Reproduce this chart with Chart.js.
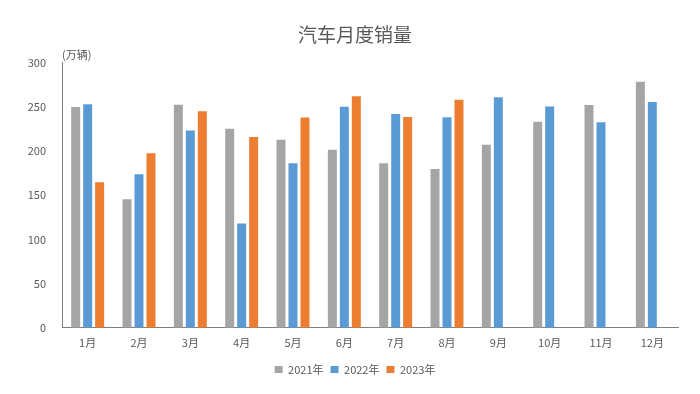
<!DOCTYPE html>
<html>
<head>
<meta charset="utf-8">
<script src="https://cdn.jsdelivr.net/npm/chart.js@4"></script>
<style>
  html, body { margin: 0; padding: 0; background: #fff; }
  #wrap { width: 700px; height: 394px; }
</style>
</head>
<body>
<div id="wrap"><canvas id="c"></canvas></div>
<script>
const months = ['1月', '2月', '3月', '4月', '5月', '6月', '7月', '8月', '9月', '10月', '11月', '12月'];
const sales2021 = [250, 145.5, 252.6, 225.2, 212.8, 201.5, 186.4, 179.9, 207.1, 233.2, 252.2, 278.6];
const sales2022 = [253.1, 173.7, 223.4, 118.1, 186.2, 250.2, 242, 238.3, 261, 250.5, 232.6, 255.6];
const sales2023 = [164.9, 197.6, 245.1, 215.9, 238.2, 262.2, 238.7, 258.2, null, null, null, null];
const yTicks = [0, 50, 100, 150, 200, 250, 300];

const font = '"Noto Sans CJK SC", "Noto Sans", sans-serif';
const textColor = '#595959';

// unit label above the y axis
const unitLabel = {
    id: 'unitLabel',
    afterDraw(chart) {
        const ctx = chart.ctx;
        const area = chart.chartArea;
        ctx.save();
        ctx.font = '11px ' + font;
        ctx.fillStyle = textColor;
        ctx.textAlign = 'left';
        ctx.textBaseline = 'middle';
        ctx.fillText('(万辆)', area.left, area.top - 8);
        ctx.restore();
    }
};

function makeSet(label, data, color) {
    return {
        label: label,
        data: data,
        backgroundColor: color,
        borderWidth: 0,
        categoryPercentage: 0.7,
        barPercentage: 0.75
    };
}

new Chart(document.getElementById('c'), {
    type: 'bar',
    data: {
        labels: months,
        datasets: [
            makeSet('2021年', sales2021, '#A5A5A5'),
            makeSet('2022年', sales2022, '#5B9BD5'),
            makeSet('2023年', sales2023, '#ED7D31')
        ]
    },
    options: {
        responsive: true,
        maintainAspectRatio: false,
        animation: false,
        layout: { padding: { left: 10, right: 0, top: 0, bottom: 9 } },
        scales: {
            x: {
                grid: { display: false, drawTicks: false },
                border: { display: true, color: '#7F7F7F', width: 1 },
                ticks: { color: textColor, font: { family: font, size: 11 }, padding: 8 }
            },
            y: {
                min: 0,
                max: 300,
                afterFit(scale) { scale.width = 52; },
                afterBuildTicks(scale) { scale.ticks = yTicks.map(v => ({ value: v })); },
                grid: { display: false, drawTicks: false },
                border: { display: true, color: '#7F7F7F', width: 1 },
                ticks: { color: textColor, font: { family: font, size: 11 }, padding: 16 }
            },
            // empty right axis, only reserves the right margin
            yRight: {
                position: 'right',
                min: 0,
                max: 300,
                afterFit(scale) { scale.width = 22; },
                grid: { display: false, drawTicks: false },
                border: { display: false },
                ticks: { display: false }
            }
        },
        plugins: {
            title: {
                display: true,
                text: '汽车月度销量',
                color: textColor,
                font: { family: font, size: 19, weight: 'normal' },
                padding: { top: 23, bottom: 17 }
            },
            legend: {
                display: true,
                position: 'bottom',
                labels: {
                    color: textColor,
                    font: { family: font, size: 11 },
                    boxWidth: 8,
                    boxHeight: 7,
                    padding: 7
                }
            },
            tooltip: { enabled: false }
        }
    },
    plugins: [unitLabel]
});
</script>
</body>
</html>
